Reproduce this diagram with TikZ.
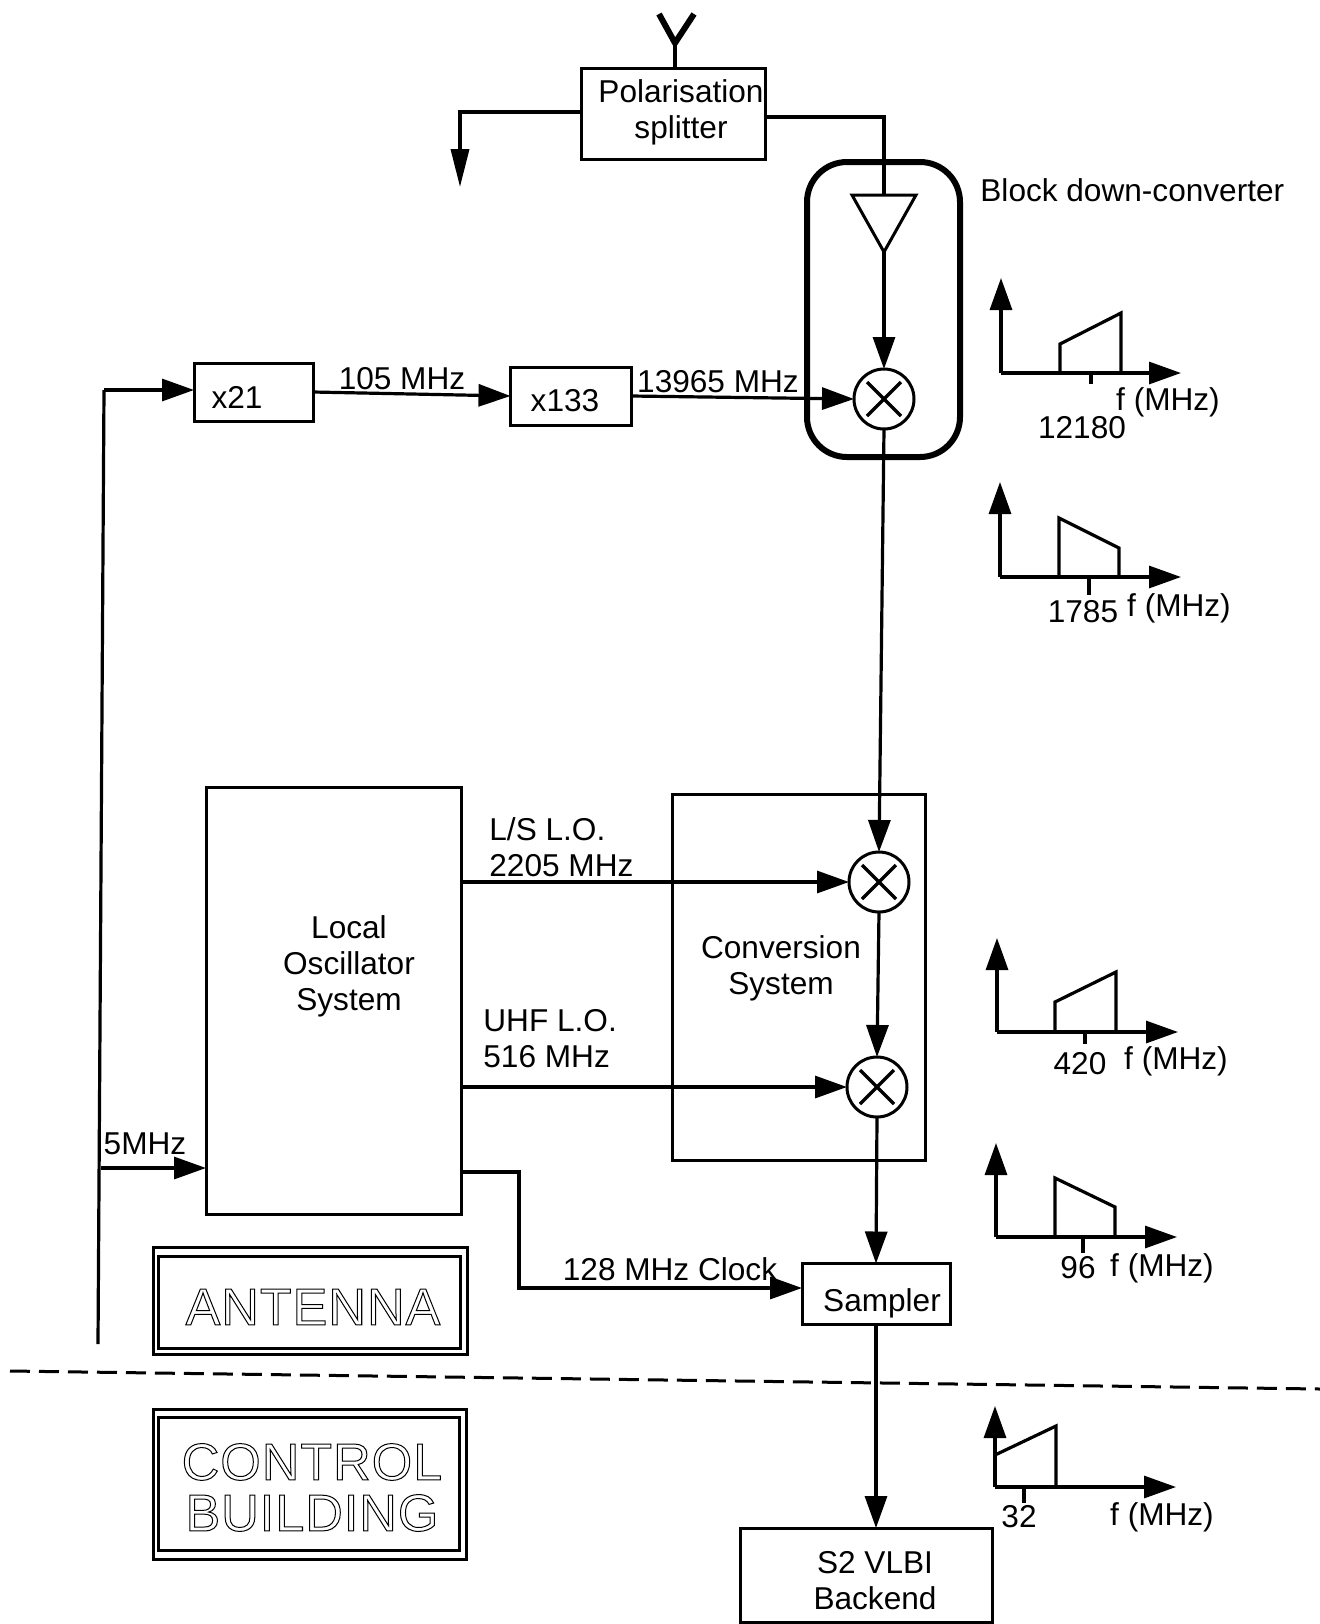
\documentclass[tikz,border=0pt]{standalone}
\usepackage{fontspec}
\setsansfont{Liberation Sans}
\newfontfamily\signfont[LetterSpace=2]{Liberation Sans}
\usepackage{tikz}
\usetikzlibrary{arrows.meta, shapes.geometric, positioning, calc}
\newcommand{\hollow}[1]{\special{pdf:code 1 Tr 0.5 w}#1\special{pdf:code 0 Tr}}

\begin{document}
\begin{tikzpicture}[
  x=0.5pt, y=-0.5pt,
  font=\sffamily\fontsize{15.8}{18}\selectfont,
  box/.style    = {draw, line width=1.5pt, align=center, inner sep=0pt, outer sep=0pt},
  mixer/.style  = {draw, circle, line width=1.5pt, minimum size=30pt, inner sep=0pt, outer sep=0pt,
                   path picture={
                     \draw[line width=1.7pt] ([shift={(-8.5pt,-8.5pt)}]path picture bounding box.center)
                        -- ([shift={(8.5pt,8.5pt)}]path picture bounding box.center);
                     \draw[line width=1.7pt] ([shift={(-8.5pt,8.5pt)}]path picture bounding box.center)
                        -- ([shift={(8.5pt,-8.5pt)}]path picture bounding box.center);}},
  amp/.style    = {draw, isosceles triangle, isosceles triangle stretches, shape border rotate=-90,
                   minimum width=32pt, minimum height=28.5pt, inner sep=0pt, outer sep=0pt,
                   line width=1.5pt},
  sign/.style   = {draw, line width=1.5pt, inner sep=0pt, outer sep=0pt},
  lbl/.style    = {inner sep=0pt, align=center},
  signtext/.style = {inner sep=0pt, font=\signfont\fontsize{26}{26}\selectfont},
  arr/.style    = {-{Triangle[length=16pt,width=11pt]}, line width=1.6pt},
  wire/.style   = {line width=1.6pt},
  band/.style   = {line width=1.6pt},
]
\useasboundingbox (0,0) rectangle (1320,1624);

%% Feed and splitter
\node[box, minimum width=92pt, minimum height=45.5pt] (polar) at (673,114) {};
\node[lbl] (polartext) at (681,112) {Polarisation\\splitter};
\coordinate (feedtip) at (675,43);
\coordinate (feedl) at (659,14);
\coordinate (feedr) at (694,14);
\coordinate (polleft) at (460,112);
\coordinate (poldown) at (460,187);
\draw[line width=3pt] (feedl) -- (feedtip) -- (feedr);
\draw[wire] (feedtip) -- (polar.north -| feedtip);
\draw[-{Triangle[length=19pt,width=9pt]}, line width=1.8pt] (polar.west |- polleft) -- (polleft) -- (poldown);

%% Block down-converter
\node[box, line width=3pt, rounded corners=20pt, minimum width=76.5pt, minimum height=147.5pt]
     (bdc) at (883.5,309.5) {};
\node[lbl, anchor=west] (bdclabel) at (980,190) {Block down-converter};
\node[amp, anchor=apex] (lna) at (884,252) {};
\node[mixer] (mixrf) at (884,399) {};
\draw[wire] ([yshift=-1.5pt]polar.east) -| (lna.lower side);
\draw[arr] (lna.apex) -- (mixrf.north);

%% Multipliers
\node[box, minimum width=59.5pt, minimum height=29pt] (xa) at (253.5,392) {};
\node[lbl] (xatext) at (237,397) {x21};
\node[box, minimum width=60.5pt, minimum height=29pt] (xb) at (571,396) {};
\node[lbl] (xbtext) at (565,401) {x133};
\coordinate (bustop) at (104,390);
\coordinate (busbot) at (98,1344);
\coordinate (bustee) at (101,1168);
\draw[wire] (bustop) -- (busbot);
\draw[arr] (bustop) -- (bustop -| xa.west);
\draw[arr] (xa.east) -- (xb.west);
\draw[arr] (xb.east) -- (mixrf.west);
\node[lbl] (mhza) at (402,379) {105 MHz};
\node[lbl] (mhzb) at (718,382) {13965 MHz};

%% Local oscillator
\node[box, minimum width=127.5pt, minimum height=213.5pt] (lo) at (333.5,1000.5) {};
\node[lbl] (lotext) at (349,966) {Local\\Oscillator\\System};
\node[lbl] (fivemhz) at (145,1144) {5MHz};
\draw[arr] (bustee) -- (bustee -| lo.west);

%% Conversion system
\node[box, minimum width=126.5pt, minimum height=183pt] (conv) at (798.5,977) {};
\node[lbl] (convtext) at (781,968) {Conversion\\System};
\node[mixer] (mixls) at (879,882) {};
\node[mixer] (mixuhf) at (877,1087) {};
\draw[arr] (mixrf.south) -- (mixls.north);
\draw[arr] (mixls.south) -- (mixuhf.north);
\draw[arr] (lo.east |- mixls.west) -- (mixls.west);
\draw[arr] (lo.east |- mixuhf.west) -- (mixuhf.west);
\node[lbl, anchor=west, align=left] (lslabel) at (489,847) {L/S L.O.\\2205 MHz};
\node[lbl, anchor=west, align=left] (uhflabel) at (483,1039) {UHF L.O.\\516 MHz};

%% Sampler and backend
\node[box, minimum width=74pt, minimum height=30.5pt] (sampler) at (876,1294) {};
\node[lbl] (samplertext) at (882,1303) {Sampler};
\node[box, minimum width=126pt, minimum height=47pt] (backend) at (866,1575) {};
\node[lbl] (backendtext) at (875,1581) {S2 VLBI\\Backend};
\coordinate (loclk) at (461,1172);
\draw[arr] (loclk) -- ++(58,0) |- ([yshift=3pt]sampler.west);
\node[lbl] (clklabel) at (670,1269) {128 MHz Clock};
\draw[arr] (mixuhf.south) -- (sampler.north);
\draw[arr] (sampler.south) -- (sampler.south |- backend.north);

%% Boundary
\coordinate (bounda) at (10,1371);
\coordinate (boundb) at (1320,1389);
\draw[line width=1.5pt, dash pattern=on 10pt off 4.5pt] (bounda) -- (boundb);

%% Location signs
\node[sign, minimum width=157pt, minimum height=53.5pt] (antsign) at (310,1300.5) {};
\node[sign, minimum width=151pt, minimum height=46pt] (antinner) at (309,1302) {};
\node[signtext] (anttext) at (313,1307) {\hollow{ANTENNA}};
\node[sign, minimum width=156.5pt, minimum height=75pt] (ctlsign) at (309.5,1484) {};
\node[sign, minimum width=150.5pt, minimum height=66.5pt] (ctlinner) at (308.5,1483.5) {};
\node[signtext] (ctltext) at (312,1462) {\hollow{CONTROL}};
\node[signtext] (bldtext) at (312,1513) {\hollow{BUILDING}};

%% Spectrum at 12180
\coordinate (oa) at (1001,373);
\draw[arr] (oa) -- ++(0,-95);
\draw[arr] (oa) -- ++(180,0);
\draw[band] (1060,373) -- (1060,344) -- (1121,313) -- (1121,373);
\draw[wire] (1091,373) -- ++(0,11);
\node[lbl] (fa) at (1168,402) {f (MHz)};
\node[lbl] (ta) at (1082,428) {12180};

%% Spectrum at 1785
\coordinate (ob) at (1000,577);
\draw[arr] (ob) -- ++(0,-95);
\draw[arr] (ob) -- ++(181,0);
\draw[band] (1059,577) -- (1059,518) -- (1119,548) -- (1119,577);
\draw[wire] (1089,577) -- ++(0,18);
\node[lbl] (fb) at (1179,608) {f (MHz)};
\node[lbl] (tb) at (1083,612) {1785};

%% Spectrum at 420
\coordinate (oc) at (997,1032);
\draw[arr] (oc) -- ++(0,-94);
\draw[arr] (oc) -- ++(181,0);
\draw[band] (1055,1032) -- (1055,1002) -- (1116,972) -- (1116,1032);
\draw[wire] (1085,1032) -- ++(0,12);
\node[lbl] (fc) at (1176,1061) {f (MHz)};
\node[lbl] (tc) at (1080,1064) {420};

%% Spectrum at 96
\coordinate (od) at (996,1237);
\draw[arr] (od) -- ++(0,-94);
\draw[arr] (od) -- ++(181,0);
\draw[band] (1055,1237) -- (1055,1178) -- (1115,1207) -- (1115,1237);
\draw[wire] (1083,1237) -- ++(0,16);
\node[lbl] (fd) at (1162,1268) {f (MHz)};
\node[lbl] (td) at (1078,1268) {96};

%% Spectrum at 32
\coordinate (oe) at (995,1487);
\draw[arr] (oe) -- ++(0,-81);
\draw[arr] (oe) -- ++(181,0);
\draw[band] (995,1455) -- (1056,1426) -- (1056,1487);
\draw[wire] (1024,1487) -- ++(0,16);
\node[lbl] (fe) at (1162,1517) {f (MHz)};
\node[lbl] (te) at (1019,1517) {32};

\end{tikzpicture}
\end{document}
